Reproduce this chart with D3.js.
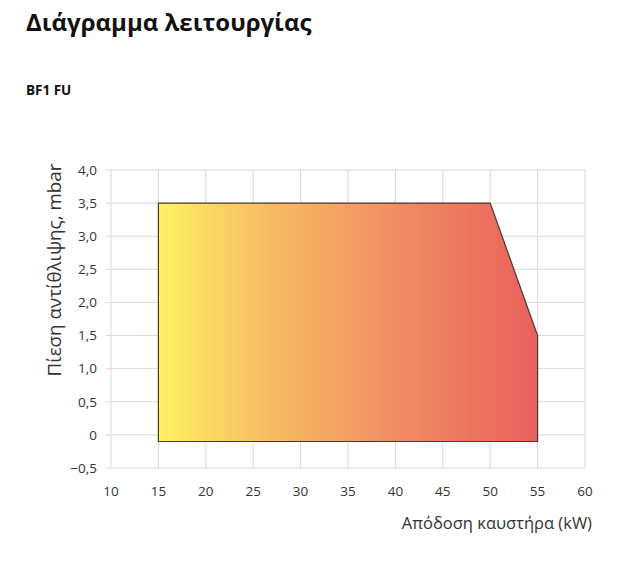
<!DOCTYPE html>
<html><head><meta charset="utf-8">
<script src="https://cdn.jsdelivr.net/npm/d3@7"></script>
<style>body{margin:0;background:#fff;font-family:"Open Sans",sans-serif;}</style>
</head><body>
<svg id="c" width="630" height="571"></svg>
<script>
const title = "Διάγραμμα λειτουργίας";
const subtitle = "BF1 FU";
const xLabel = "Απόδοση καυστήρα (kW)";
const yLabel = "Πίεση αντίθλιψης, mbar";
const xTicks = [10, 15, 20, 25, 30, 35, 40, 45, 50, 55, 60];
const yTicks = [-0.5, 0, 0.5, 1.0, 1.5, 2.0, 2.5, 3.0, 3.5, 4.0];
const areaX = [15, 15, 50, 55, 55];
const areaY = [-0.1, 3.5, 3.5, 1.5, -0.1];

const svg = d3.select("#c");
const x = d3.scaleLinear().domain([10, 60]).range([111, 585]);
const y = d3.scaleLinear().domain([-0.5, 4.0]).range([468, 170]);
const fmt = v => v === 0 ? "0" : d3.format(".1f")(v).replace(".", ",");

svg.append("text").attr("x", 26).attr("y", 31).attr("font-size", 24).attr("font-weight", "bold").attr("fill", "#111").text(title);
svg.append("text").attr("x", 26).attr("y", 95).attr("font-size", 13.5).attr("font-weight", "bold").attr("fill", "#111").text(subtitle);

const defs = svg.append("defs");
const g = defs.append("linearGradient").attr("id", "grad").attr("gradientUnits", "userSpaceOnUse")
  .attr("x1", x(15)).attr("x2", x(55)).attr("y1", 0).attr("y2", 0);
g.append("stop").attr("offset", "0%").attr("stop-color", "#fff262");
g.append("stop").attr("offset", "24%").attr("stop-color", "#f8c462");
g.append("stop").attr("offset", "64%").attr("stop-color", "#f18b63");
g.append("stop").attr("offset", "100%").attr("stop-color", "#e8605b");

const grid = svg.append("g");
grid.selectAll("line.h").data(yTicks).join("line").attr("class", "h")
  .attr("x1", 106).attr("x2", x(60)).attr("y1", d => y(d)).attr("y2", d => y(d))
  .attr("stroke", "#d9d9d9").attr("stroke-width", 1);
grid.selectAll("line.v").data(xTicks).join("line").attr("class", "v")
  .attr("x1", d => x(d)).attr("x2", d => x(d)).attr("y1", y(4.0)).attr("y2", y(-0.5))
  .attr("stroke", "#d9d9d9").attr("stroke-width", 1);

const pts = areaX.map((v, i) => [x(v), y(areaY[i])]);
svg.append("path").attr("d", d3.line()(pts) + "Z")
  .attr("fill", "url(#grad)").attr("stroke", "#4a3a32").attr("stroke-width", 1.2);

svg.selectAll("text.yt").data(yTicks).join("text").attr("class", "yt")
  .attr("x", 97).attr("y", d => y(d) + 4.8).attr("text-anchor", "end")
  .attr("font-size", 13.5).attr("fill", "#333").text(fmt);
svg.selectAll("text.xt").data(xTicks).join("text").attr("class", "xt")
  .attr("x", d => x(d)).attr("y", 496).attr("text-anchor", "middle")
  .attr("font-size", 13.5).attr("fill", "#333").text(d => d);

svg.append("text").attr("x", 592).attr("y", 529).attr("text-anchor", "end")
  .attr("font-size", 16.5).attr("fill", "#333").text(xLabel);
svg.append("text").attr("transform", "translate(61,270) rotate(-90)").attr("text-anchor", "middle")
  .attr("font-size", 18.8).attr("fill", "#333").text(yLabel);
</script>
</body></html>
